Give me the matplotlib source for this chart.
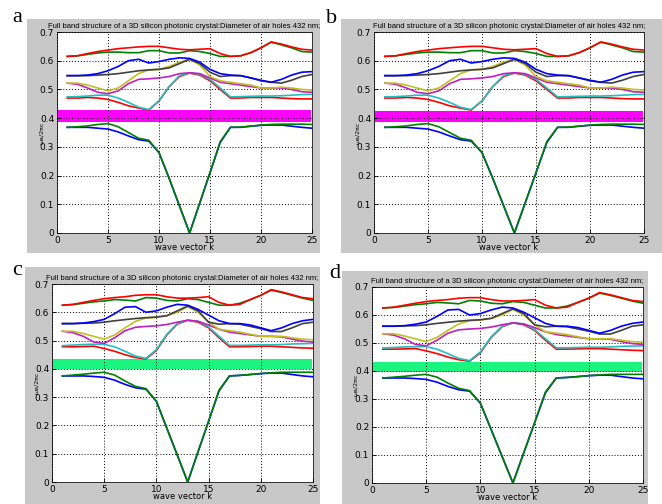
import matplotlib
matplotlib.use("Agg")
import matplotlib.pyplot as plt
from matplotlib.patches import Rectangle

# wave vector index along the k path
k = list(range(1, 26))

# panel a / b bands (10 bands)
a_b1 = [0.368, 0.368, 0.368, 0.365, 0.362, 0.352, 0.338, 0.325, 0.320, 0.280, 0.190, 0.095, 0.0,
        0.105, 0.210, 0.315, 0.368, 0.368, 0.372, 0.375, 0.376, 0.376, 0.372, 0.368, 0.365]
a_b2 = [0.368, 0.370, 0.373, 0.378, 0.381, 0.370, 0.350, 0.330, 0.323, 0.280, 0.190, 0.095, 0.0,
        0.105, 0.210, 0.318, 0.368, 0.369, 0.372, 0.376, 0.378, 0.379, 0.379, 0.379, 0.378]
a_b3 = [0.470, 0.470, 0.472, 0.470, 0.465, 0.455, 0.443, 0.435, 0.428, 0.460, 0.510, 0.545, 0.557,
        0.550, 0.530, 0.500, 0.470, 0.470, 0.472, 0.472, 0.472, 0.470, 0.468, 0.467, 0.467]
a_b4 = [0.474, 0.475, 0.477, 0.480, 0.480, 0.470, 0.455, 0.438, 0.430, 0.460, 0.510, 0.548, 0.558,
        0.553, 0.535, 0.505, 0.474, 0.475, 0.476, 0.477, 0.477, 0.478, 0.480, 0.482, 0.483]
a_b5 = [0.522, 0.518, 0.505, 0.490, 0.485, 0.495, 0.520, 0.535, 0.537, 0.540, 0.545, 0.555, 0.558,
        0.555, 0.540, 0.525, 0.520, 0.515, 0.510, 0.505, 0.505, 0.505, 0.500, 0.492, 0.490]
a_b6 = [0.522, 0.522, 0.515, 0.505, 0.495, 0.505, 0.530, 0.555, 0.568, 0.570, 0.580, 0.595, 0.605,
        0.585, 0.545, 0.530, 0.525, 0.520, 0.515, 0.505, 0.505, 0.508, 0.505, 0.500, 0.498]
a_b7 = [0.548, 0.548, 0.548, 0.550, 0.552, 0.555, 0.560, 0.565, 0.568, 0.570, 0.575, 0.590, 0.605,
        0.590, 0.560, 0.545, 0.548, 0.548, 0.540, 0.530, 0.525, 0.522, 0.532, 0.545, 0.552]
a_b8 = [0.548, 0.548, 0.550, 0.555, 0.565, 0.580, 0.600, 0.605, 0.592, 0.597, 0.605, 0.610, 0.608,
        0.595, 0.570, 0.555, 0.550, 0.548, 0.540, 0.532, 0.525, 0.535, 0.550, 0.560, 0.562]
a_b9 = [0.615, 0.617, 0.622, 0.627, 0.630, 0.630, 0.628, 0.628, 0.635, 0.635, 0.627, 0.627, 0.635,
        0.632, 0.625, 0.615, 0.615, 0.617, 0.628, 0.645, 0.665, 0.655, 0.645, 0.632, 0.630]
a_b10 = [0.615, 0.617, 0.625, 0.632, 0.637, 0.642, 0.645, 0.648, 0.650, 0.650, 0.645, 0.640, 0.638,
         0.640, 0.642, 0.625, 0.615, 0.617, 0.628, 0.645, 0.665, 0.658, 0.648, 0.640, 0.637]

# panel c / d bands
c_b1 = [0.375, 0.375, 0.375, 0.373, 0.370, 0.360, 0.345, 0.333, 0.328, 0.285, 0.190, 0.095, 0.0,
        0.108, 0.215, 0.322, 0.375, 0.377, 0.380, 0.383, 0.385, 0.385, 0.380, 0.375, 0.372]
c_b2 = [0.375, 0.378, 0.381, 0.385, 0.388, 0.378, 0.357, 0.338, 0.330, 0.285, 0.190, 0.095, 0.0,
        0.108, 0.215, 0.325, 0.375, 0.377, 0.380, 0.384, 0.386, 0.388, 0.388, 0.388, 0.388]
c_b3 = [0.478, 0.478, 0.479, 0.480, 0.472, 0.462, 0.450, 0.440, 0.435, 0.465, 0.520, 0.558, 0.572,
        0.565, 0.545, 0.510, 0.478, 0.478, 0.479, 0.480, 0.480, 0.478, 0.476, 0.474, 0.473]
c_b4 = [0.482, 0.484, 0.486, 0.487, 0.487, 0.478, 0.462, 0.445, 0.437, 0.468, 0.522, 0.560, 0.572,
        0.568, 0.548, 0.515, 0.483, 0.483, 0.484, 0.485, 0.485, 0.486, 0.488, 0.489, 0.490]
c_b5 = [0.533, 0.528, 0.515, 0.495, 0.490, 0.510, 0.535, 0.547, 0.550, 0.552, 0.557, 0.565, 0.572,
        0.568, 0.555, 0.540, 0.530, 0.525, 0.520, 0.515, 0.515, 0.513, 0.505, 0.498, 0.495]
c_b6 = [0.533, 0.533, 0.525, 0.515, 0.505, 0.520, 0.545, 0.568, 0.580, 0.582, 0.588, 0.600, 0.620,
        0.600, 0.565, 0.540, 0.535, 0.530, 0.522, 0.515, 0.515, 0.515, 0.510, 0.505, 0.503]
c_b7 = [0.560, 0.560, 0.561, 0.562, 0.565, 0.570, 0.574, 0.578, 0.581, 0.583, 0.588, 0.605, 0.622,
        0.605, 0.565, 0.558, 0.560, 0.558, 0.550, 0.542, 0.532, 0.532, 0.545, 0.560, 0.565]
c_b8 = [0.560, 0.560, 0.562, 0.567, 0.575, 0.595, 0.618, 0.620, 0.600, 0.605, 0.618, 0.628, 0.625,
        0.610, 0.590, 0.570, 0.560, 0.560, 0.555, 0.545, 0.535, 0.545, 0.560, 0.570, 0.575]
c_b9 = [0.625, 0.627, 0.632, 0.637, 0.640, 0.645, 0.643, 0.640, 0.652, 0.650, 0.642, 0.640, 0.648,
        0.645, 0.635, 0.625, 0.625, 0.632, 0.645, 0.660, 0.678, 0.670, 0.660, 0.650, 0.642]
c_b10 = [0.625, 0.628, 0.635, 0.642, 0.648, 0.652, 0.655, 0.660, 0.662, 0.662, 0.655, 0.650, 0.650,
         0.652, 0.655, 0.635, 0.625, 0.628, 0.645, 0.660, 0.680, 0.672, 0.662, 0.652, 0.648]

bands_a = [a_b1, a_b2, a_b3, a_b4, a_b5, a_b6, a_b7, a_b8, a_b9, a_b10]
bands_c = [c_b1, c_b2, c_b3, c_b4, c_b5, c_b6, c_b7, c_b8, c_b9, c_b10]

# photonic band gap (lower, upper)
gap_a = (0.386, 0.427)
gap_b = (0.388, 0.424)
gap_c = (0.400, 0.436)
gap_d = (0.398, 0.433)

panel_letters = ["a", "b", "c", "d"]
title_text = "Full band structure of a 3D silicon photonic crystal:Diameter of air holes 432 nm;"

# MATLAB-like colour order
line_colors = ["#0000ff", "#008000", "#ff0000", "#20c0c0", "#c020c0",
               "#c0c020", "#404040", "#0000ff", "#008000", "#ff0000"]

W, H = 662, 504
fig = plt.figure(figsize=(W / 100, H / 100), dpi=100)
fig.patch.set_facecolor("white")


def px_rect(l, t, r, b):
    return [l / W, 1 - b / H, (r - l) / W, (b - t) / H]


# gray box (l, t, r, b), axes box, letter position
layout = [
    ((27, 19, 320, 253), (57, 32, 312, 233), (12, 22)),
    ((341, 19, 662, 253), (374, 32, 644, 233), (326, 23)),
    ((25, 267, 320, 504), (52, 284, 313, 482), (12, 275)),
    ((342, 271, 648, 504), (372, 287, 643, 483), (329, 278)),
]
panel_bands = [bands_a, bands_a, bands_c, bands_c]
panel_gaps = [gap_a, gap_b, gap_c, gap_d]
gap_colors = ["#ff00ff", "#ff00ff", "#19f57f", "#19f57f"]

for i in range(4):
    gbox, abox, lpos = layout[i]
    l, t, r, b = gbox
    fig.patches.append(Rectangle((l / W, 1 - b / H), (r - l) / W, (b - t) / H,
                                 transform=fig.transFigure, facecolor="#c8c8c8",
                                 edgecolor="none", zorder=-10))
    ax = fig.add_axes(px_rect(*abox))
    ax.set_zorder(2)
    ax.set_facecolor("white")
    lo, hi = panel_gaps[i]
    ax.axhspan(lo, hi, xmin=0, xmax=0.995, color=gap_colors[i], lw=0, zorder=1)
    for band, col in zip(panel_bands[i], line_colors):
        ax.plot(k, band, color=col, lw=1.2, zorder=3)
    ax.set_xlim(0, 25)
    ax.set_ylim(0, 0.7)
    ax.set_xticks([0, 5, 10, 15, 20, 25])
    ax.set_yticks([0, 0.1, 0.2, 0.3, 0.4, 0.5, 0.6, 0.7])
    ax.set_yticklabels(["0", "0.1", "0.2", "0.3", "0.4", "0.5", "0.6", "0.7"])
    ax.grid(True, color="black", linestyle=(0, (1, 2)), linewidth=0.7)
    ax.set_axisbelow(False)
    ax.tick_params(direction="in", length=3, width=0.6, labelsize=6.5, pad=2)
    for s in ax.spines.values():
        s.set_linewidth(0.7)
        s.set_color("#303030")
    ax.set_title(title_text, fontsize=5.5, pad=3, family="Liberation Sans")
    ax.set_xlabel("wave vector k", fontsize=6.0, labelpad=-1)
    ax.set_ylabel("ωa/2πc", fontsize=4.5)
    ax.yaxis.set_label_coords(-0.05, 0.5)
    fig.text(lpos[0] / W, 1 - lpos[1] / H, panel_letters[i], fontsize=16,
             family="Liberation Serif", ha="left", va="baseline", zorder=5)

fig.savefig("out.png", dpi=100)
